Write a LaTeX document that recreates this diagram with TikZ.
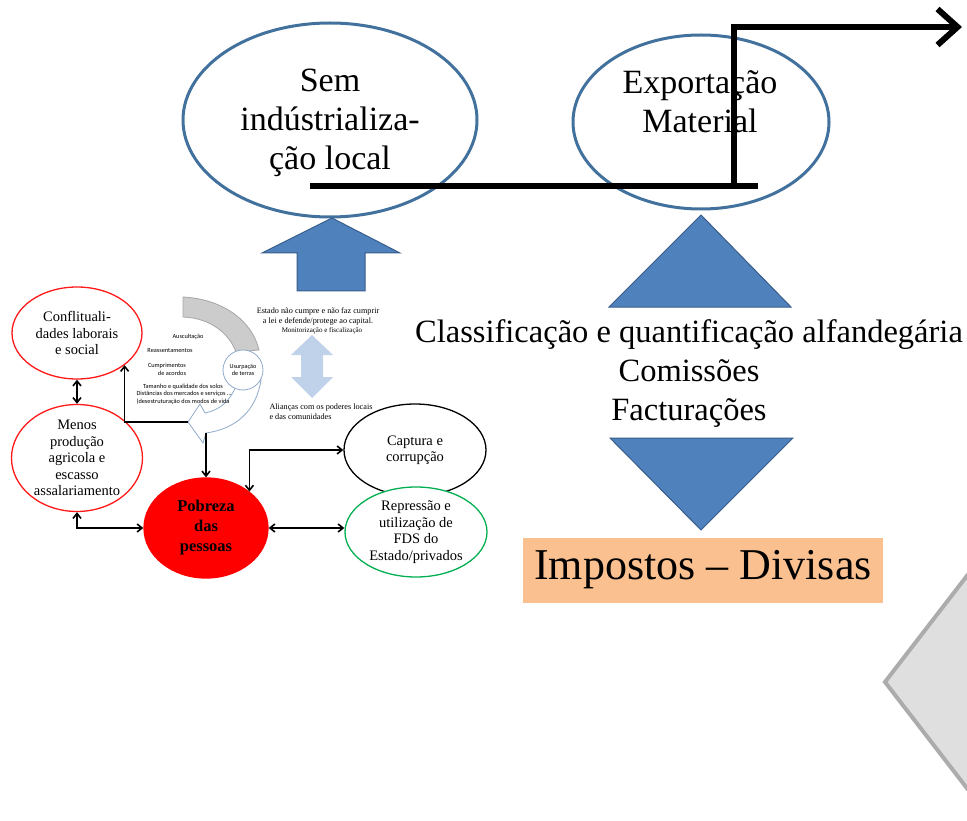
\documentclass[tikz,border=0pt]{standalone}
\usepackage{fontspec}
\setmainfont{Liberation Serif}
\newfontfamily\calibri{Carlito}
\usetikzlibrary{shapes.geometric,arrows.meta,calc}

\definecolor{ppblue}{HTML}{4F81BD}
\definecolor{ppblueline}{HTML}{385D8A}
\definecolor{ringblue}{HTML}{41719C}
\definecolor{peach}{HTML}{FAC090}
\definecolor{lightblue}{HTML}{BFD2EA}
\definecolor{greenline}{HTML}{00B050}
\definecolor{usurpblue}{HTML}{8FAACB}

\begin{document}
\begin{tikzpicture}[x=1pt,y=-1pt,
  bigoval/.style={draw=ringblue,line width=3pt,ellipse,inner sep=0pt},
  bigtext/.style={align=center,inner sep=0pt,font=\fontsize{34}{39}\selectfont},
  smalloval/.style={ellipse,inner sep=0pt,align=center,line width=1.3pt,fill=white,font=\fontsize{14.5}{16.5}\selectfont},
  biarrow/.style={{Straight Barb[length=5pt,width=8pt]}-{Straight Barb[length=5pt,width=8pt]},line width=1.6pt},
  onearrow/.style={-{Straight Barb[length=5pt,width=8pt]},line width=1.6pt},
  blockfill/.style={fill=ppblue,draw=ppblueline,line width=1pt},
  tinytext/.style={font=\calibri\fontsize{6.3}{7.5}\selectfont,inner sep=0pt},
  smalltext/.style={font=\fontsize{8.2}{10}\selectfont,inner sep=0pt,align=center}]
\useasboundingbox (0,0) rectangle (967,821);
\clip (0,0) rectangle (967,821);

\draw[fill=gray!25,draw=gray!65,line width=4pt] (1010,520) -- (885,682) -- (1010,844);

\node[bigoval,minimum width=294pt,minimum height=194pt] (sem) at (330,120) {};
\node[bigtext] (semtxt) at (330,123) {Sem\\indústrializa-\\ção local};
\node[bigoval,minimum width=256pt,minimum height=174pt] (export) at (701,122) {};
\node[bigtext] (exporttxt) at (700,102) {Exportação\\Material};

\coordinate (lineL) at (310,186);
\coordinate (lineR) at (758,186);
\coordinate (riseB) at (734,186);
\coordinate (riseT) at (734,27);
\coordinate (tipR) at (962,27);
\draw[line width=6pt] (lineL) -- (lineR);
\draw[line width=6pt,-{Straight Barb[length=20pt,width=36pt]}] (riseB) -- (riseT) -- (tipR);

\draw[blockfill] (332,218) -- (400,253) -- (365,253) -- (365,291) -- (297,291) -- (297,253) -- (262,253) -- cycle;
\draw[blockfill] (701,215) -- (791,307) -- (609,307) -- cycle;
\draw[blockfill] (610,438) -- (793,438) -- (701,530) -- cycle;

\node[align=center,inner sep=0pt,font=\fontsize{32.5}{39}\selectfont] (customs) at (689,374) {Classificação e quantificação alfandegária\\Comissões\\Facturações};
\node[fill=peach,minimum width=360pt,minimum height=65pt,inner sep=0pt,font=\fontsize{44}{50}\selectfont] (tax) at (703,570) {Impostos – Divisas};

\draw[fill=gray!40,draw=gray!70,line width=0.8pt] (183,297) .. controls (222,299) and (252,320) .. (259,350) -- (236,352) .. controls (229,333) and (210,318) .. (183,317) -- cycle;
\draw[fill=white,draw=usurpblue,line width=0.8pt] (236,386) .. controls (230,401) and (220,410) .. (205,413) -- (200,404) -- (188,422) -- (203,443) -- (206,433) .. controls (235,429) and (256,412) .. (261,380) -- cycle;
\node[circle,draw=usurpblue,fill=white,line width=0.8pt,minimum size=40pt,inner sep=0pt,align=center,font=\calibri\fontsize{6.2}{7.5}\selectfont] (usurp) at (243,370) {Usurpação\\de terras};
\coordinate (curvetip) at (188,422);
\coordinate (curvebot) at (206,433);

\foreach \txt/\px/\py [count=\i] in {{Auscultação}/188/337, {Reassentamentos}/170/351, {Cumprimentos}/167/366, {de acordos}/172/373, {Tamanho e qualidade dos solos}/183/387, {Distâncias dos mercados e serviços \ldots}/184/394, {(desestruturação dos modos de vida}/183/402}
  \node[tinytext] (note-\i) at (\px,\py) {\txt};

\node[smalltext] (state) at (318,316) {Estado não cumpre e não faz cumprir\\a lei e defende/protege ao capital.};
\node[smalltext,font=\fontsize{7}{8}\selectfont] (monit) at (322,331) {Monitorização e fiscalização};
\node[smalltext,align=left] (allies) at (321,412) {Alianças com os poderes locais\\e das comunidades};
\fill[lightblue] (312,335) -- (333,355) -- (323,355) -- (323,377) -- (333,377) -- (312,398) -- (291,377) -- (301,377) -- (301,355) -- (291,355) -- cycle;

\node[smalloval,draw=red!90,minimum width=130pt,minimum height=92pt] (conf) at (77,333) {Conflituali-\\dades laborais\\e social};
\node[smalloval,draw=red!90,minimum width=131pt,minimum height=98pt] (menos) at (77,458) {Menos\\produção\\agricola e\\escasso\\assalariamento};
\node[smalloval,fill=red,draw=red,minimum width=124pt,minimum height=100pt,font=\bfseries\fontsize{16.5}{20}\selectfont] (pob) at (206,528) {Pobreza\\das\\pessoas};
\node[smalloval,draw=black,minimum width=142pt,minimum height=92pt] (cap) at (415,450) {Captura e\\corrupção};
\node[smalloval,draw=greenline,minimum width=142pt,minimum height=90pt] (rep) at (416,532) {Repressão e\\utilização de\\FDS do\\Estado/privados};

\draw[biarrow] (conf) -- (menos);
\draw[biarrow] (menos.south) |- (pob.west);
\draw[biarrow] (pob.east) -- (pob.east -| rep.west);
\draw[biarrow] (pob.40) |- (cap.west);
\draw[onearrow] (curvebot) -- (pob.north);
\draw[onearrow] (curvetip) -| (conf.326);
\end{tikzpicture}
\end{document}
